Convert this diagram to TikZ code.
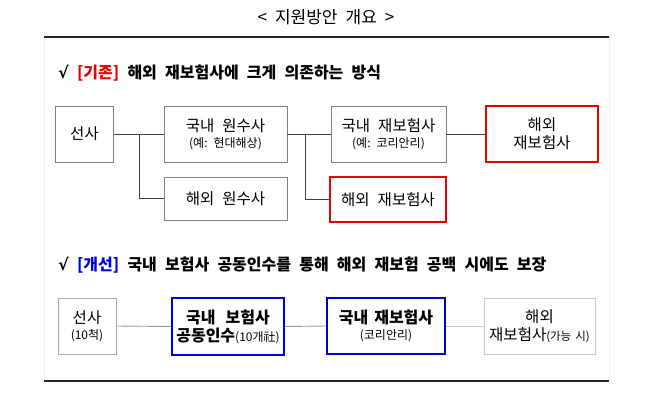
\documentclass[tikz,border=0pt]{standalone}
\usepackage{fontspec}
\setmainfont{Noto Sans CJK KR}
\newfontfamily\symfont{DejaVu Sans}
\newcommand\subtxt{\fontsize{12}{14}\selectfont}
\newcommand\hgap{\hspace{8.2pt}}
\newcommand\bgap{\hspace{8pt}}
\definecolor{hred}{RGB}{230,0,0}
\definecolor{hblue}{RGB}{0,0,220}
\definecolor{boxgray}{RGB}{128,128,128}
\definecolor{lightgray2}{RGB}{170,170,170}
\definecolor{lightgray3}{RGB}{200,200,200}
\definecolor{pinkline}{RGB}{250,215,215}
\begin{document}
\begin{tikzpicture}[x=1pt,y=-1pt,
  box/.style={draw=boxgray,line width=0.9pt,rectangle,inner sep=0pt,align=center,font=\fontsize{15.5}{18}\selectfont},
  redbox/.style={box,draw=hred,line width=2pt},
  bluebox/.style={box,draw=hblue,line width=2pt,font=\bfseries\fontsize{16}{18}\selectfont},
  conn/.style={draw=black!75,line width=0.7pt},
  conn2/.style={draw=gray!80,line width=0.9pt},
  head/.style={anchor=west,inner sep=0pt,font=\bfseries\fontsize{16}{18}\selectfont}
]
\useasboundingbox (0,0) rectangle (658,409);
\fill[white] (0,0) rectangle (658,409);
% title
\node[inner sep=0pt,font=\fontsize{17}{20}\selectfont] (title) at (326,17) {<\hspace{8pt}지원방안\hspace{8pt}개요\hspace{8pt}>};
% frame
\draw[pinkline,line width=0.6pt,dash pattern=on 1pt off 1pt] (44,37) -- (44,381);
\draw[pinkline,line width=0.6pt,dash pattern=on 1pt off 1pt] (609,37) -- (609,381);
\draw[black!85,line width=2pt] (44,37) -- (609,37);
\draw[black!85,line width=2pt] (44,381) -- (609,381);
% heading 1
\node[head] (h1) at (58,73) {{\symfont √}\hgap\textcolor{hred}{[기존]}\hgap 해외\hgap 재보험사에\hgap 크게\hgap 의존하는\hgap 방식};
% row 1
\node[box,minimum width=58,minimum height=56] (s1) at (84.5,134) {선사};
\node[box,minimum width=123,minimum height=56] (dom1) at (225.5,134) {국내\bgap 원수사\\[-2pt]{\subtxt (예:\hspace{6pt}현대해상)}};
\node[box,minimum width=123,minimum height=43] (for1) at (225.5,198.5) {해외\bgap 원수사};
\node[box,minimum width=115,minimum height=56] (dre1) at (388.5,134) {국내\bgap 재보험사\\[-2pt]{\subtxt (예:\hspace{6pt}코리안리)}};
\node[redbox,minimum width=112,minimum height=56] (fre1) at (542,134) {해외\\재보험사};
\node[redbox,minimum width=116,minimum height=45] (fre2) at (388,199.5) {해외\bgap 재보험사};
\coordinate (j1) at (139,134);
\coordinate (j2) at (305,134);
\draw[conn] (s1.east) -- (dom1.west);
\draw[conn] (j1) |- (for1.west);
\draw[conn] (dom1.east) -- (dre1.west);
\draw[conn] (j2) |- (fre2.west);
\draw[conn] (dre1.east) -- (fre1.west);
% heading 2
\node[head] (h2) at (58,265) {{\symfont √}\hgap\textcolor{hblue}{[개선]}\hgap 국내\hgap 보험사\hgap 공동인수를\hgap 통해\hgap 해외\hgap 재보험\hgap 공백\hgap 시에도\hgap 보장};
% row 2
\node[box,draw=lightgray2,minimum width=58,minimum height=56] (s2) at (87,326) {선사\\[-2pt]{\subtxt (10척)}};
\node[bluebox,minimum width=112,minimum height=57] (co) at (228,326.5) {국내\hspace{10pt}보험사\\공동인수{\mdseries\subtxt(10개社)}};
\node[bluebox,minimum width=118,minimum height=56] (kr) at (386,326) {국내\hspace{6pt}재보험사\\[-2pt]{\mdseries\subtxt (코리안리)}};
\node[box,draw=lightgray3,minimum width=111,minimum height=56] (ov) at (539.5,326) {해외\\재보험사{\fontsize{11.5}{14}\selectfont(가능\hspace{4pt}시)}};
\draw[conn2] (s2.east) -- (co.west);
\draw[conn2] (co.east) -- (kr.west);
\draw[draw=lightgray3,line width=0.9pt] (kr.east) -- (ov.west);
\end{tikzpicture}
\end{document}
